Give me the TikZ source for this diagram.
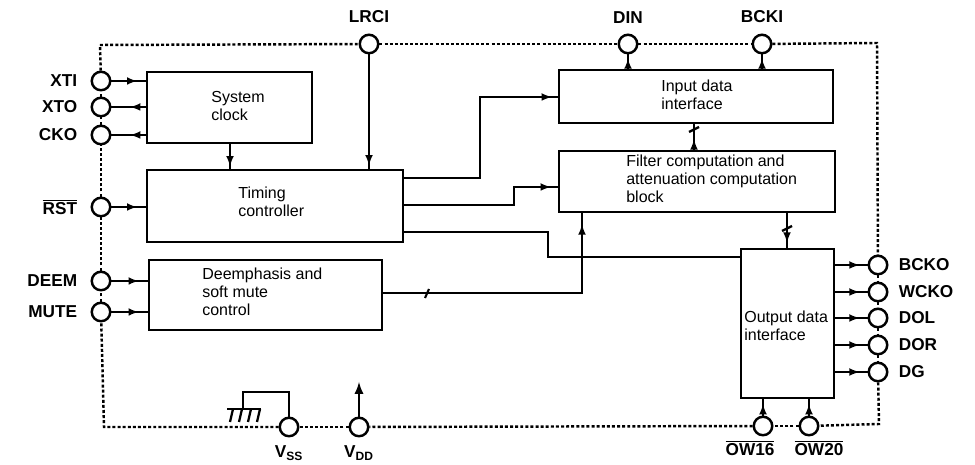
\documentclass[tikz,border=0pt]{standalone}
\usepackage{fontspec}
\setmainfont{Liberation Sans}
\usetikzlibrary{positioning,fit,decorations.markings}

\tikzset{
    block/.style={draw, line width=1.6pt, inner sep=0pt, fit={#1}},
    blocktext/.style={font=\fontsize{9.1}{10.2}\selectfont, align=left, anchor=north west, inner sep=0pt},
    pinhole/.style={draw, circle, line width=1.4pt, fill=white, minimum size=0.37cm, inner sep=0pt},
    pinlabel/.style={font=\fontsize{9.8}{11}\selectfont\bfseries, inner sep=0pt},
    frameline/.style={line width=1.4pt, dash pattern=on 1.7pt off 1.2pt},
    signal/.style={line width=1.6pt},
    tipat/.style={signal, postaction={decorate}, decoration={markings, mark=at position #1 with {\arrow[scale=0.75]{latex}}}},
}

\begin{document}
\begin{tikzpicture}[>=latex, x=0.02cm, y=-0.02cm]
    \useasboundingbox (0,0) rectangle (975,465);

    % blocks
    \node[block={(147,72) (312,143)}] (clock) {};
    \node[block={(147,170) (403,242)}] (timing) {};
    \node[block={(149,260) (382,330)}] (deem) {};
    \node[block={(559,70) (833,123)}] (input) {};
    \node[block={(559,151) (835,212)}] (filter) {};
    \node[block={(741,249) (834,398)}] (output) {};

    \node[blocktext] (clocktext) at (211,91) {System\\clock};
    \node[blocktext] (timingtext) at (238,187) {Timing\\controller};
    \node[blocktext] (deemtext) at (202,268) {Deemphasis and\\soft mute\\control};
    \node[blocktext] (inputtext) at (661,80) {Input data\\interface};
    \node[blocktext] (filtertext) at (626,155) {Filter computation and\\attenuation computation\\block};
    \node[blocktext] (outputtext) at (744,311) {Output data\\interface};

    % pins on the left
    \foreach \name/\ypos/\txt in {xti/81/XTI, xto/107/XTO, cko/135/CKO, rst/207/$\overline{\mbox{RST}}$, deemp/281/DEEM, mute/312/MUTE} {
        \node[pinhole] (\name) at (101,\ypos) {};
        \node[pinlabel, left=0.26cm of \name] (\name text) {\txt};
    }
    % pins on the right
    \foreach \name/\ypos/\txt in {bcko/265/BCKO, wcko/292/WCKO, dol/318/DOL, dor/345/DOR, dg/372/DG} {
        \node[pinhole] (\name) at (878,\ypos) {};
        \node[pinlabel, right=0.2cm of \name] (\name text) {\txt};
    }
    % pins on the top
    \foreach \name/\xpos/\txt in {lrci/369/LRCI, din/628/DIN, bcki/762/BCKI} {
        \node[pinhole] (\name) at (\xpos,44) {};
        \node[pinlabel, above=0.2cm of \name] (\name text) {\txt};
    }
    % pins on the bottom
    \node[pinhole] (vss) at (289,427) {};
    \node[pinhole] (vdd) at (359,427) {};
    \node[pinhole] (ow16) at (763,426) {};
    \node[pinhole] (ow20) at (809,426) {};
    \node[pinlabel, below=0.16cm of vss] (vsstext) {V\textsubscript{SS}};
    \node[pinlabel, below=0.16cm of vdd] (vddtext) {V\textsubscript{DD}};
    \node[pinlabel, below=0.06cm of ow16, xshift=-0.26cm] (ow16text) {$\overline{\mbox{OW16}}$};
    \node[pinlabel, below=0.06cm of ow20, xshift=0.2cm] (ow20text) {$\overline{\mbox{OW20}}$};

    % package outline
    \coordinate (topleft) at (100,45);
    \coordinate (topright) at (877,43);
    \coordinate (botright) at (879,424);
    \coordinate (botleft) at (104,427);
    \draw[frameline] (topleft) -- (lrci);
    \draw[frameline] (lrci) -- (din);
    \draw[frameline] (din) -- (bcki);
    \draw[frameline] (bcki) -- (topright) -- (bcko);
    \draw[frameline] (bcko) -- (wcko);
    \draw[frameline] (wcko) -- (dol);
    \draw[frameline] (dol) -- (dor);
    \draw[frameline] (dor) -- (dg);
    \draw[frameline] (dg) -- (botright) -- (ow20);
    \draw[frameline] (ow20) -- (ow16);
    \draw[frameline] (ow16) -- (vdd);
    \draw[frameline] (vdd) -- (vss);
    \draw[frameline] (vss) -- (botleft) -- (mute);
    \draw[frameline] (mute) -- (deemp);
    \draw[frameline] (deemp) -- (rst);
    \draw[frameline] (rst) -- (cko);
    \draw[frameline] (cko) -- (xto);
    \draw[frameline] (xto) -- (xti);
    \draw[frameline] (xti) -- (topleft);

    % signals on the left
    \draw[tipat=0.75] (xti) -- (xti -| clock.west);
    \draw[tipat=0.45] (clock.west |- xto) -- (xto);
    \draw[tipat=0.45] (clock.west |- cko) -- (cko);
    \draw[tipat=0.75] (rst) -- (rst -| timing.west);
    \draw[tipat=0.75] (deemp) -- (deemp -| deem.west);
    \draw[tipat=0.75] (mute) -- (mute -| deem.west);
    \draw[tipat=0.9] (clock.south -| 230,0) -- (timing.north -| 230,0);
    \draw[tipat=0.97] (lrci) -- (lrci |- timing.north);

    % signals in the middle
    \draw[tipat=0.975] (timing.east |- 0,178) -| (480,97) -- (input.west |- 0,97);
    \draw[tipat=0.96] (timing.east |- 0,205) -| (514,187) -- (filter.west |- 0,187);
    \draw[signal] (timing.east |- 0,232) -| (548,257) -- (output.west |- 0,257);
    \draw[tipat=0.96] (deem.east |- 0,293) -| (filter.south -| 582,0);
    \draw[line width=1.2pt] (425,298) -- (429,289);

    % signals on the top
    \draw[tipat=0.7] (input.north -| din) -- (din);
    \draw[tipat=0.7] (input.north -| bcki) -- (bcki);

    % buses
    \draw[tipat=0.4] (filter.north -| 694,0) -- (input.south -| 694,0);
    \draw[line width=1.3pt] (689,132) -- (699,127);
    \draw[tipat=0.85] (filter.south -| 787,0) -- (output.north -| 787,0);
    \draw[line width=1.3pt] (782,231) -- (792,226);

    % signals on the right
    \foreach \name in {bcko, wcko, dol, dor, dg} {
        \draw[tipat=0.75] (output.east |- \name) -- (\name);
    }
    \draw[tipat=0.7] (ow16) -- (ow16 |- output.south);
    \draw[tipat=0.7] (ow20) -- (ow20 |- output.south);

    % supply
    \coordinate (vddend) at (359,382);
    \coordinate (gndleft) at (227,409);
    \coordinate (gndright) at (261,409);
    \draw[line width=1.3pt, ->] (vdd) -- (vddend);
    \draw[line width=1.3pt] (vss) |- (243,392) -- (243,409);
    \draw[line width=1.3pt] (gndleft) -- (gndright);
    \foreach \x in {233, 242, 251, 260} {
        \draw[line width=1.3pt] (\x,409) -- (\x-3,422);
    }
\end{tikzpicture}
\end{document}
